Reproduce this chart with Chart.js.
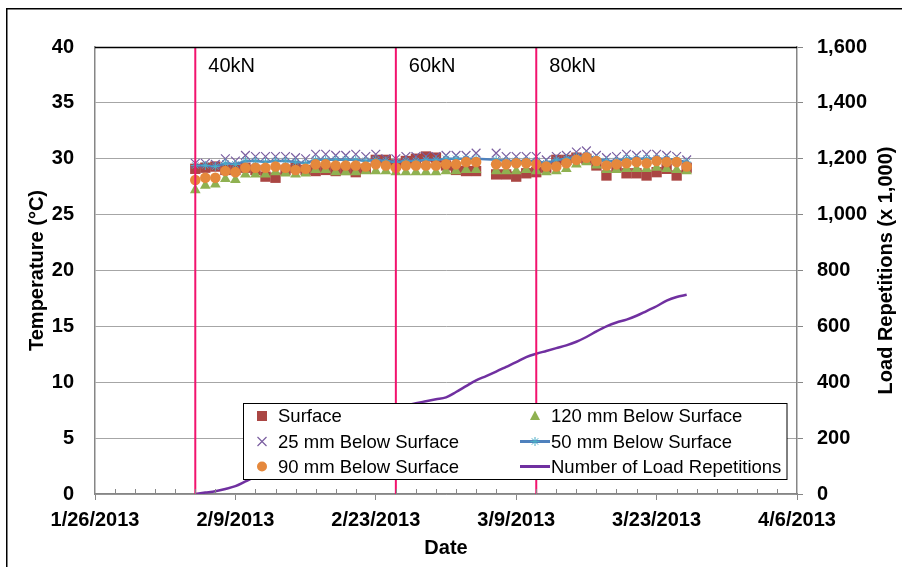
<!DOCTYPE html>
<html>
<head>
<meta charset="utf-8">
<script src="https://cdn.jsdelivr.net/npm/chart.js@4.4.0/dist/chart.umd.min.js"></script>
<style>
html,body{margin:0;padding:0;background:#fff;}
#wrap{width:902px;height:567px;position:relative;}
</style>
</head>
<body>
<div id="wrap"><canvas id="c" width="902" height="567"></canvas></div>
<script>
// ---------------- DATA ----------------
const startDate = '1/26/2013';
const endDate = '4/6/2013';
const xTickLabels = ['1/26/2013', '2/9/2013', '2/23/2013', '3/9/2013', '3/23/2013', '4/6/2013'];

const dates = [
  '2/5/2013','2/6/2013','2/7/2013','2/8/2013','2/9/2013','2/10/2013','2/11/2013','2/12/2013','2/13/2013','2/14/2013',
  '2/15/2013','2/16/2013','2/17/2013','2/18/2013','2/19/2013','2/20/2013','2/21/2013','2/22/2013','2/23/2013','2/24/2013',
  '2/25/2013','2/26/2013','2/27/2013','2/28/2013','3/1/2013','3/2/2013','3/3/2013','3/4/2013','3/5/2013','3/6/2013',
  '3/7/2013','3/8/2013','3/9/2013','3/10/2013','3/11/2013','3/12/2013','3/13/2013','3/14/2013','3/15/2013','3/16/2013',
  '3/17/2013','3/18/2013','3/19/2013','3/20/2013','3/21/2013','3/22/2013','3/23/2013','3/24/2013','3/25/2013','3/26/2013'
];

const surface = [
  29.1,29.2,29.3,29.0,29.0,29.2,29.0,28.4,28.3,29.0,
  29.2,29.0,28.9,29.0,28.9,29.0,28.8,29.1,29.9,29.9,
  29.5,29.8,30.0,30.2,30.1,29.4,29.0,28.9,28.9,null,
  28.6,28.6,28.4,28.7,28.8,29.2,29.9,29.9,30.1,30.0,
  29.4,28.5,29.3,28.7,28.7,28.5,28.8,29.1,28.5,29.2
];
const below25 = [
  29.6,29.6,29.5,30.0,29.8,30.3,30.2,30.2,30.2,30.2,
  30.1,30.0,30.4,30.4,30.3,30.3,30.4,30.2,30.4,30.0,
  30.0,30.2,30.2,30.2,30.2,30.3,30.3,30.3,30.5,null,
  30.5,30.2,30.2,30.2,30.2,29.9,30.2,30.3,30.6,30.7,
  30.3,30.1,30.2,30.4,30.3,30.4,30.4,30.3,30.2,29.9
];
const below50 = [
  29.4,29.4,29.3,29.6,29.5,29.8,29.8,29.7,29.8,29.8,
  29.7,29.6,29.9,29.9,29.9,29.9,29.9,29.8,29.9,29.8,
  29.7,29.8,29.8,29.9,29.9,30.0,30.0,30.0,30.0,null,
  29.9,29.8,29.8,29.8,29.8,29.6,29.9,30.0,30.2,30.3,
  30.0,29.8,29.8,30.0,30.0,30.0,30.0,30.0,29.9,29.7
];
const below90 = [
  28.1,28.3,28.3,28.9,28.8,29.2,29.2,29.2,29.3,29.2,
  29.0,29.1,29.5,29.5,29.4,29.4,29.4,29.3,29.5,29.4,
  29.2,29.4,29.4,29.4,29.4,29.5,29.5,29.7,29.7,null,
  29.5,29.5,29.6,29.6,29.5,29.3,29.3,29.6,29.9,30.1,
  29.8,29.4,29.5,29.6,29.7,29.6,29.8,29.7,29.7,29.3
];
const below120 = [
  27.2,27.6,27.7,28.2,28.1,28.6,28.6,28.6,28.8,28.7,
  28.6,28.7,29.0,29.0,28.8,28.8,28.8,28.9,28.9,28.9,
  28.8,28.8,28.8,28.8,28.8,28.9,28.9,29.0,29.0,null,
  28.9,28.9,28.9,29.0,28.9,28.8,28.9,29.1,29.5,29.7,
  29.4,29.0,29.0,29.1,29.1,29.1,29.2,29.1,29.0,28.9
];
// Number of load repetitions, in thousands
const loadReps = [
  0,5,10,18,28,45,62,80,98,116,
  134,152,170,188,205,222,238,254,270,285,
  300,316,325,332,339,346,365,386,407,422,
  438,455,472,490,502,512,522,532,545,562,
  582,600,614,624,638,655,672,692,705,713
];

const loadLevels = ['40kN', '60kN', '80kN'];
const loadLevelDates = ['2/5/2013', '2/25/2013', '3/11/2013'];

const seriesNames = ['Surface', '120 mm Below Surface', '25 mm Below Surface', '50 mm Below Surface', '90 mm Below Surface', 'Number of Load Repetitions'];
const titleX = 'Date';
const titleY = 'Temperature (°C)';
const titleY2 = 'Load Repetitions (x 1,000)';

// ---------------- HELPERS ----------------
function dayOffset(s) {
  const [m, d, y] = s.split('/').map(Number);
  const [m0, d0, y0] = startDate.split('/').map(Number);
  return Math.round((Date.UTC(y, m - 1, d) - Date.UTC(y0, m0 - 1, d0)) / 86400000);
}
const xDays = dates.map(dayOffset);
const pts = arr => arr.map((v, i) => ({ x: xDays[i], y: v }));

const FONT = "'Liberation Sans', Arial, Helvetica, sans-serif";
Chart.defaults.font.family = FONT;
Chart.defaults.color = '#000';

const AXIS = '#868686';
const GRID = '#A6A6A6';
const C = {
  surface: '#AA4643',
  b120: '#8FB151',
  b25: '#7A5EA0',
  b50line: '#4F81BD',
  b50pt: '#4BACC6',
  b90: '#E5883C',
  load: '#7030A0',
  red: '#F2136E'
};

const datasets = [
  { label: seriesNames[0], data: pts(surface), showLine: false, pointStyle: 'rect', pointRadius: 7.3,
    backgroundColor: C.surface, borderColor: C.surface, pointBorderWidth: 0, order: 6, yAxisID: 'y', legendPos: [0, 0], mk: 'rect' },
  { label: seriesNames[1], data: pts(below120), showLine: false, pointStyle: 'triangle', pointRadius: 6.2,
    backgroundColor: C.b120, borderColor: C.b120, pointBorderWidth: 0, order: 2, yAxisID: 'y', legendPos: [1, 0], mk: 'triangle' },
  { label: seriesNames[2], data: pts(below25), showLine: false, pointStyle: 'crossRot', pointRadius: 6.2,
    backgroundColor: C.b25, borderColor: C.b25, pointBorderWidth: 1.2, order: 4, yAxisID: 'y', legendPos: [0, 1], mk: 'x' },
  { label: seriesNames[3], data: pts(below50), showLine: true, spanGaps: true, borderColor: C.b50line, borderWidth: 2.5,
    pointStyle: 'star', pointRadius: 4.5, pointBorderColor: C.b50pt, pointBackgroundColor: C.b50pt, pointBorderWidth: 1,
    tension: 0, order: 3, yAxisID: 'y', legendPos: [1, 1], mk: 'star', isLine: true },
  { label: seriesNames[4], data: pts(below90), showLine: false, pointStyle: 'circle', pointRadius: 5.3,
    backgroundColor: C.b90, borderColor: C.b90, pointBorderWidth: 0, order: 1, yAxisID: 'y', legendPos: [0, 2], mk: 'circle' },
  { label: seriesNames[5], data: pts(loadReps), showLine: true, borderColor: C.load, borderWidth: 2.5, pointRadius: 0,
    cubicInterpolationMode: 'monotone', order: 7, yAxisID: 'y2', legendPos: [1, 2], mk: null, isLine: true }
];

loadLevelDates.forEach((d, i) => {
  const dx = dayOffset(d);
  datasets.push({
    label: loadLevels[i], data: [{ x: dx, y: 0 }, { x: dx, y: 40 }], showLine: true,
    borderColor: C.red, borderWidth: 2, pointRadius: 0, order: 0, yAxisID: 'y', isMarkerLine: true
  });
});

// ---------------- OVERLAY PLUGIN ----------------
function drawMarker(ctx, type, x, y, color) {
  ctx.save();
  ctx.fillStyle = color; ctx.strokeStyle = color;
  if (type === 'rect') {
    ctx.fillRect(x - 5, y - 5, 10, 10);
  } else if (type === 'circle') {
    ctx.beginPath(); ctx.arc(x, y, 5, 0, Math.PI * 2); ctx.fill();
  } else if (type === 'triangle') {
    ctx.beginPath(); ctx.moveTo(x, y - 5.5); ctx.lineTo(x + 5, y + 4); ctx.lineTo(x - 5, y + 4); ctx.closePath(); ctx.fill();
  } else if (type === 'x') {
    ctx.lineWidth = 1.2; ctx.beginPath();
    ctx.moveTo(x - 4.5, y - 4.5); ctx.lineTo(x + 4.5, y + 4.5);
    ctx.moveTo(x + 4.5, y - 4.5); ctx.lineTo(x - 4.5, y + 4.5); ctx.stroke();
  } else if (type === 'star') {
    ctx.lineWidth = 1; ctx.beginPath();
    ctx.moveTo(x, y - 4.5); ctx.lineTo(x, y + 4.5);
    ctx.moveTo(x - 4.5, y); ctx.lineTo(x + 4.5, y);
    ctx.moveTo(x - 3.2, y - 3.2); ctx.lineTo(x + 3.2, y + 3.2);
    ctx.moveTo(x + 3.2, y - 3.2); ctx.lineTo(x - 3.2, y + 3.2); ctx.stroke();
  }
  ctx.restore();
}

const overlay = {
  id: 'overlay',
  afterDraw(chart) {
    const ctx = chart.ctx, ca = chart.chartArea, xs = chart.scales.x;
    ctx.save();
    // outer chart frame
    ctx.strokeStyle = '#000'; ctx.lineWidth = 1.5;
    ctx.strokeRect(6.75, 8.75, 1000, 1000);
    // black top border of plot area
    ctx.lineWidth = 1.3;
    ctx.beginPath(); ctx.moveTo(ca.left, Math.round(ca.top) + 0.5); ctx.lineTo(ca.right, Math.round(ca.top) + 0.5); ctx.stroke();
    // minor ticks on the date axis (inside)
    ctx.strokeStyle = AXIS; ctx.lineWidth = 1;
    for (let d = xs.min + 2; d < xs.max; d += 2) {
      if (d % 14 === 0) continue;
      const px = Math.round(xs.getPixelForValue(d)) + 0.5;
      ctx.beginPath(); ctx.moveTo(px, ca.bottom); ctx.lineTo(px, ca.bottom - 5); ctx.stroke();
    }
    // right axis title, reading bottom-to-top
    ctx.fillStyle = '#000';
    ctx.font = 'bold 20px ' + FONT;
    ctx.textAlign = 'center'; ctx.textBaseline = 'middle';
    ctx.save();
    ctx.translate(886, (ca.top + ca.bottom) / 2);
    ctx.rotate(-Math.PI / 2);
    ctx.fillText(titleY2, 0, 0);
    ctx.restore();
    // load level labels
    ctx.font = '20px ' + FONT;
    ctx.textBaseline = 'middle'; ctx.textAlign = 'left';
    loadLevelDates.forEach((d, i) => {
      const px = xs.getPixelForValue(dayOffset(d));
      ctx.fillText(loadLevels[i], px + 13, 66);
    });
    // legend box
    const L = { x: 243.5, y: 403.5, w: 543.5, h: 76 };
    ctx.fillStyle = '#fff'; ctx.fillRect(L.x, L.y, L.w, L.h);
    ctx.strokeStyle = '#000'; ctx.lineWidth = 1; ctx.strokeRect(L.x, L.y, L.w, L.h);
    const rowsY = [416, 441.5, 466.5];
    const cols = [{ mk: 262, tx: 278 }, { mk: 535, tx: 551, l0: 520, l1: 550 }];
    ctx.font = '18.5px ' + FONT;
    chart.data.datasets.forEach(ds => {
      if (!ds.legendPos) return;
      const col = cols[ds.legendPos[0]], y = rowsY[ds.legendPos[1]];
      if (ds.isLine) {
        ctx.strokeStyle = ds.borderColor; ctx.lineWidth = 3;
        ctx.beginPath(); ctx.moveTo(col.l0, y); ctx.lineTo(col.l1, y); ctx.stroke();
        if (ds.mk) drawMarker(ctx, ds.mk, (col.l0 + col.l1) / 2, y, ds.pointBorderColor);
      } else {
        drawMarker(ctx, ds.mk, col.mk, y, ds.backgroundColor);
      }
      ctx.fillStyle = '#000';
      ctx.fillText(ds.label, col.tx, y + 1);
    });
    ctx.restore();
  }
};

// ---------------- CHART ----------------
new Chart(document.getElementById('c'), {
  type: 'line',
  data: { datasets },
  options: {
    responsive: false,
    animation: false,
    devicePixelRatio: 1,
    events: [],
    layout: { padding: { top: 47, left: 0, right: 0, bottom: 0 } },
    plugins: { legend: { display: false }, tooltip: { enabled: false } },
    scales: {
      x: {
        type: 'linear', position: 'bottom',
        min: dayOffset(startDate), max: dayOffset(endDate),
        afterFit: s => { s.height = 73; },
        ticks: {
          stepSize: 14, autoSkip: false, maxRotation: 0, padding: 8,
          font: { size: 20, weight: 'bold' },
          callback: v => xTickLabels[Math.round(v / 14)] || ''
        },
        grid: { drawOnChartArea: false, drawTicks: true, tickLength: 6, color: AXIS, lineWidth: 1 },
        border: { display: true, color: AXIS, width: 1.5 },
        title: { display: true, text: titleX, font: { size: 20, weight: 'bold' }, padding: { top: 0, bottom: 7 } }
      },
      y: {
        type: 'linear', position: 'left', min: 0, max: 40,
        afterFit: s => { s.width = 95; },
        ticks: { stepSize: 5, padding: 21, font: { size: 20, weight: 'bold' } },
        grid: { drawOnChartArea: true, drawTicks: false, color: GRID, lineWidth: 1 },
        border: { display: true, color: AXIS, width: 1.5 },
        title: { display: true, text: titleY, font: { size: 20, weight: 'bold' }, padding: { top: 25, bottom: 0 } }
      },
      y2: {
        type: 'linear', position: 'right', min: 0, max: 1600,
        afterFit: s => { s.width = 105; },
        ticks: { stepSize: 200, padding: 14, font: { size: 20, weight: 'bold' },
          callback: v => v.toLocaleString('en-US') },
        grid: { drawOnChartArea: false, drawTicks: true, tickLength: 6, color: AXIS, lineWidth: 1 },
        border: { display: true, color: AXIS, width: 1.5 },
        title: { display: false }
      }
    }
  },
  plugins: [overlay]
});
</script>
</body>
</html>
